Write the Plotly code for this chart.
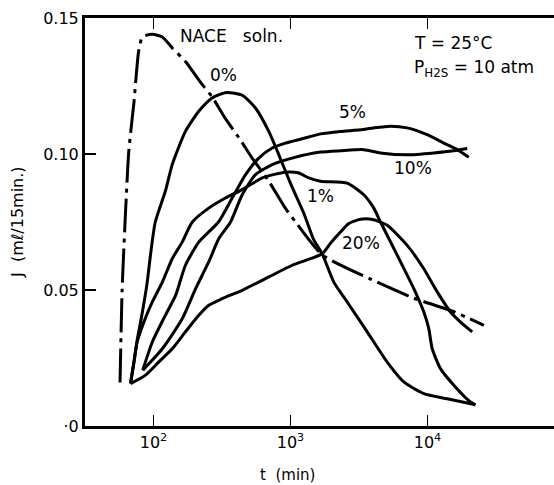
import plotly.graph_objects as go

# ---- data (t in min, J in ml/15min) ----
nace_t = [57, 59, 62, 66, 72, 78, 83, 98, 116, 137, 171, 227, 268, 335, 420, 525, 694, 919, 1090, 1700, 3840, 7940, 15600, 25800]
nace_j = [0.016, 0.050, 0.075, 0.101, 0.119, 0.138, 0.143, 0.144, 0.143, 0.139, 0.134, 0.1255, 0.121, 0.113, 0.106, 0.0985, 0.090, 0.080, 0.075, 0.063, 0.054, 0.047, 0.042, 0.037]

p0_t = [68, 72, 76, 83, 90, 95, 103, 122, 137, 171, 214, 268, 341, 444, 555, 694, 822, 1000, 1251, 1479, 1704, 2070, 2594, 3631, 5080, 6714, 9400, 13930, 22390]
p0_j = [0.0156, 0.0235, 0.0315, 0.0419, 0.0529, 0.0628, 0.075, 0.0863, 0.0961, 0.1083, 0.1157, 0.1206, 0.1226, 0.1216, 0.1169, 0.1083, 0.0997, 0.0892, 0.0782, 0.0684, 0.0633, 0.0529, 0.0456, 0.0346, 0.0235, 0.0162, 0.0119, 0.0100, 0.0078]

p1_t = [68, 72, 76, 85, 98, 116, 137, 162, 192, 253, 335, 444, 622, 777, 972, 1150, 1360, 1656, 2594, 3428, 4055, 4538, 6010, 7943, 9400, 10220, 10820, 12440, 15560, 20600, 22390]
p1_j = [0.0156, 0.0235, 0.0309, 0.0382, 0.0456, 0.0529, 0.0615, 0.0676, 0.075, 0.0801, 0.0838, 0.0869, 0.0912, 0.0926, 0.0934, 0.0930, 0.0912, 0.0900, 0.0893, 0.0850, 0.0801, 0.075, 0.0628, 0.0505, 0.0419, 0.0358, 0.0284, 0.0211, 0.0150, 0.0088, 0.0078]

p5_t = [83.5, 98, 122, 145, 171, 214, 298, 375, 470, 587, 735, 919, 1217, 1656, 2317, 3243, 4055, 5370, 7110, 9950, 13150, 16480, 20000]
p5_j = [0.0205, 0.0309, 0.0407, 0.0480, 0.0591, 0.0676, 0.075, 0.0838, 0.0924, 0.0985, 0.1022, 0.1040, 0.1056, 0.1074, 0.1083, 0.1089, 0.1096, 0.1102, 0.1096, 0.1071, 0.1040, 0.1016, 0.0988]

p10_t = [83.5, 116, 162, 203, 253, 300, 365, 444, 555, 735, 1029, 1656, 2317, 3428, 4538, 7110, 11120, 15560, 19500]
p10_j = [0.0205, 0.0284, 0.0394, 0.0505, 0.0603, 0.0689, 0.075, 0.0850, 0.0924, 0.0961, 0.0985, 0.1007, 0.1012, 0.1016, 0.1004, 0.0997, 0.1004, 0.1012, 0.1020]

p20_t = [68, 87, 109, 137, 171, 214, 253, 317, 444, 694, 1029, 1704, 1959, 2317, 2649, 3243, 3970, 5080, 7110, 9400, 11770, 14730, 17420, 21200]
p20_j = [0.0156, 0.0186, 0.0235, 0.0284, 0.0346, 0.0407, 0.0444, 0.0468, 0.0499, 0.0548, 0.0591, 0.0633, 0.0672, 0.0713, 0.0744, 0.0760, 0.0759, 0.0738, 0.0664, 0.0578, 0.0493, 0.0419, 0.0382, 0.0346]

x_tickvals = [100, 1000, 10000]
x_ticktext = ["10<sup>2</sup>", "10<sup>3</sup>", "10<sup>4</sup>"]
y_tickvals = [0, 0.05, 0.10, 0.15]
y_ticktext = ["·0", "0.05", "0.10", "0.15"]

FONT = "DejaVu Sans, Liberation Sans, Arial"

fig = go.Figure()
fig.add_trace(go.Scatter(x=nace_t, y=nace_j, mode="lines", line=dict(color="black", width=3, dash="34px,6px,4px,6px", shape="spline", smoothing=0.6), name="NACE soln."))
for tt, jj, nm in [(p0_t, p0_j, "0%"), (p1_t, p1_j, "1%"), (p5_t, p5_j, "5%"), (p10_t, p10_j, "10%"), (p20_t, p20_j, "20%")]:
    fig.add_trace(go.Scatter(x=tt, y=jj, mode="lines", line=dict(color="black", width=3, shape="spline", smoothing=0.6), name=nm))

L, R, T, B = 85, 0, 18, 59
W, H = 554, 485
pw, ph = W - L - R, H - T - B

def px(x):
    return (x - L) / pw

def py(y):
    return (H - B - y) / ph

ann = [
    ("NACE\u00a0\u00a0\u00a0soln.", 178, 36, "left", 17),
    ("0%", 223, 75, "center", 17),
    ("5%", 352, 112, "center", 17),
    ("10%", 413, 168, "center", 17),
    ("1%", 320, 196, "center", 17),
    ("20%", 361, 243, "center", 17),
    ("T = 25°C", 412, 43, "left", 17),
    ("P<sub>H2S</sub> = 10\u00a0atm", 412, 68, "left", 17),
    ("t\u00a0\u00a0(min)", 287, 475, "center", 15),
]
for text, x, y, xa, fs in ann:
    fig.add_annotation(text=text, x=px(x), y=py(y), xref="paper", yref="paper",
                       xanchor=xa, yanchor="middle", showarrow=False,
                       font=dict(family=FONT, size=fs, color="black"))
fig.add_annotation(text="J\u00a0\u00a0(mℓ/15min.)", x=px(17), y=py(222), xref="paper", yref="paper",
                   textangle=-90, showarrow=False, xanchor="center", yanchor="middle",
                   font=dict(family=FONT, size=16, color="black"))

fig.update_xaxes(type="log", range=[1.5, 1.5 + pw / 137.0], tickvals=x_tickvals, ticktext=x_ticktext,
                 ticks="inside", ticklen=11, tickwidth=1.5, tickcolor="black",
                 showline=True, linecolor="black", linewidth=3, mirror="allticks",
                 showgrid=False, zeroline=False,
                 tickfont=dict(family=FONT, size=16, color="black"))
fig.update_yaxes(range=[0, 0.15], tickvals=y_tickvals, ticktext=y_ticktext,
                 ticks="inside", ticklen=11, tickwidth=1.5, tickcolor="black",
                 showline=True, linecolor="black", linewidth=3,
                 showgrid=False, zeroline=False,
                 tickfont=dict(family=FONT, size=16, color="black"))
fig.update_layout(width=W, height=H, margin=dict(l=L, r=R, t=T, b=B),
                  plot_bgcolor="white", paper_bgcolor="white", showlegend=False)
fig.write_html("out.html", config={"displayModeBar": False, "staticPlot": True})

# remove the browser's default page margin so the figure sits at the window origin
with open("out.html", "r", encoding="utf-8") as f:
    html = f.read()
html = html.replace("<body>", '<body style="margin:0;padding:0;overflow:hidden">', 1)
with open("out.html", "w", encoding="utf-8") as f:
    f.write(html)
